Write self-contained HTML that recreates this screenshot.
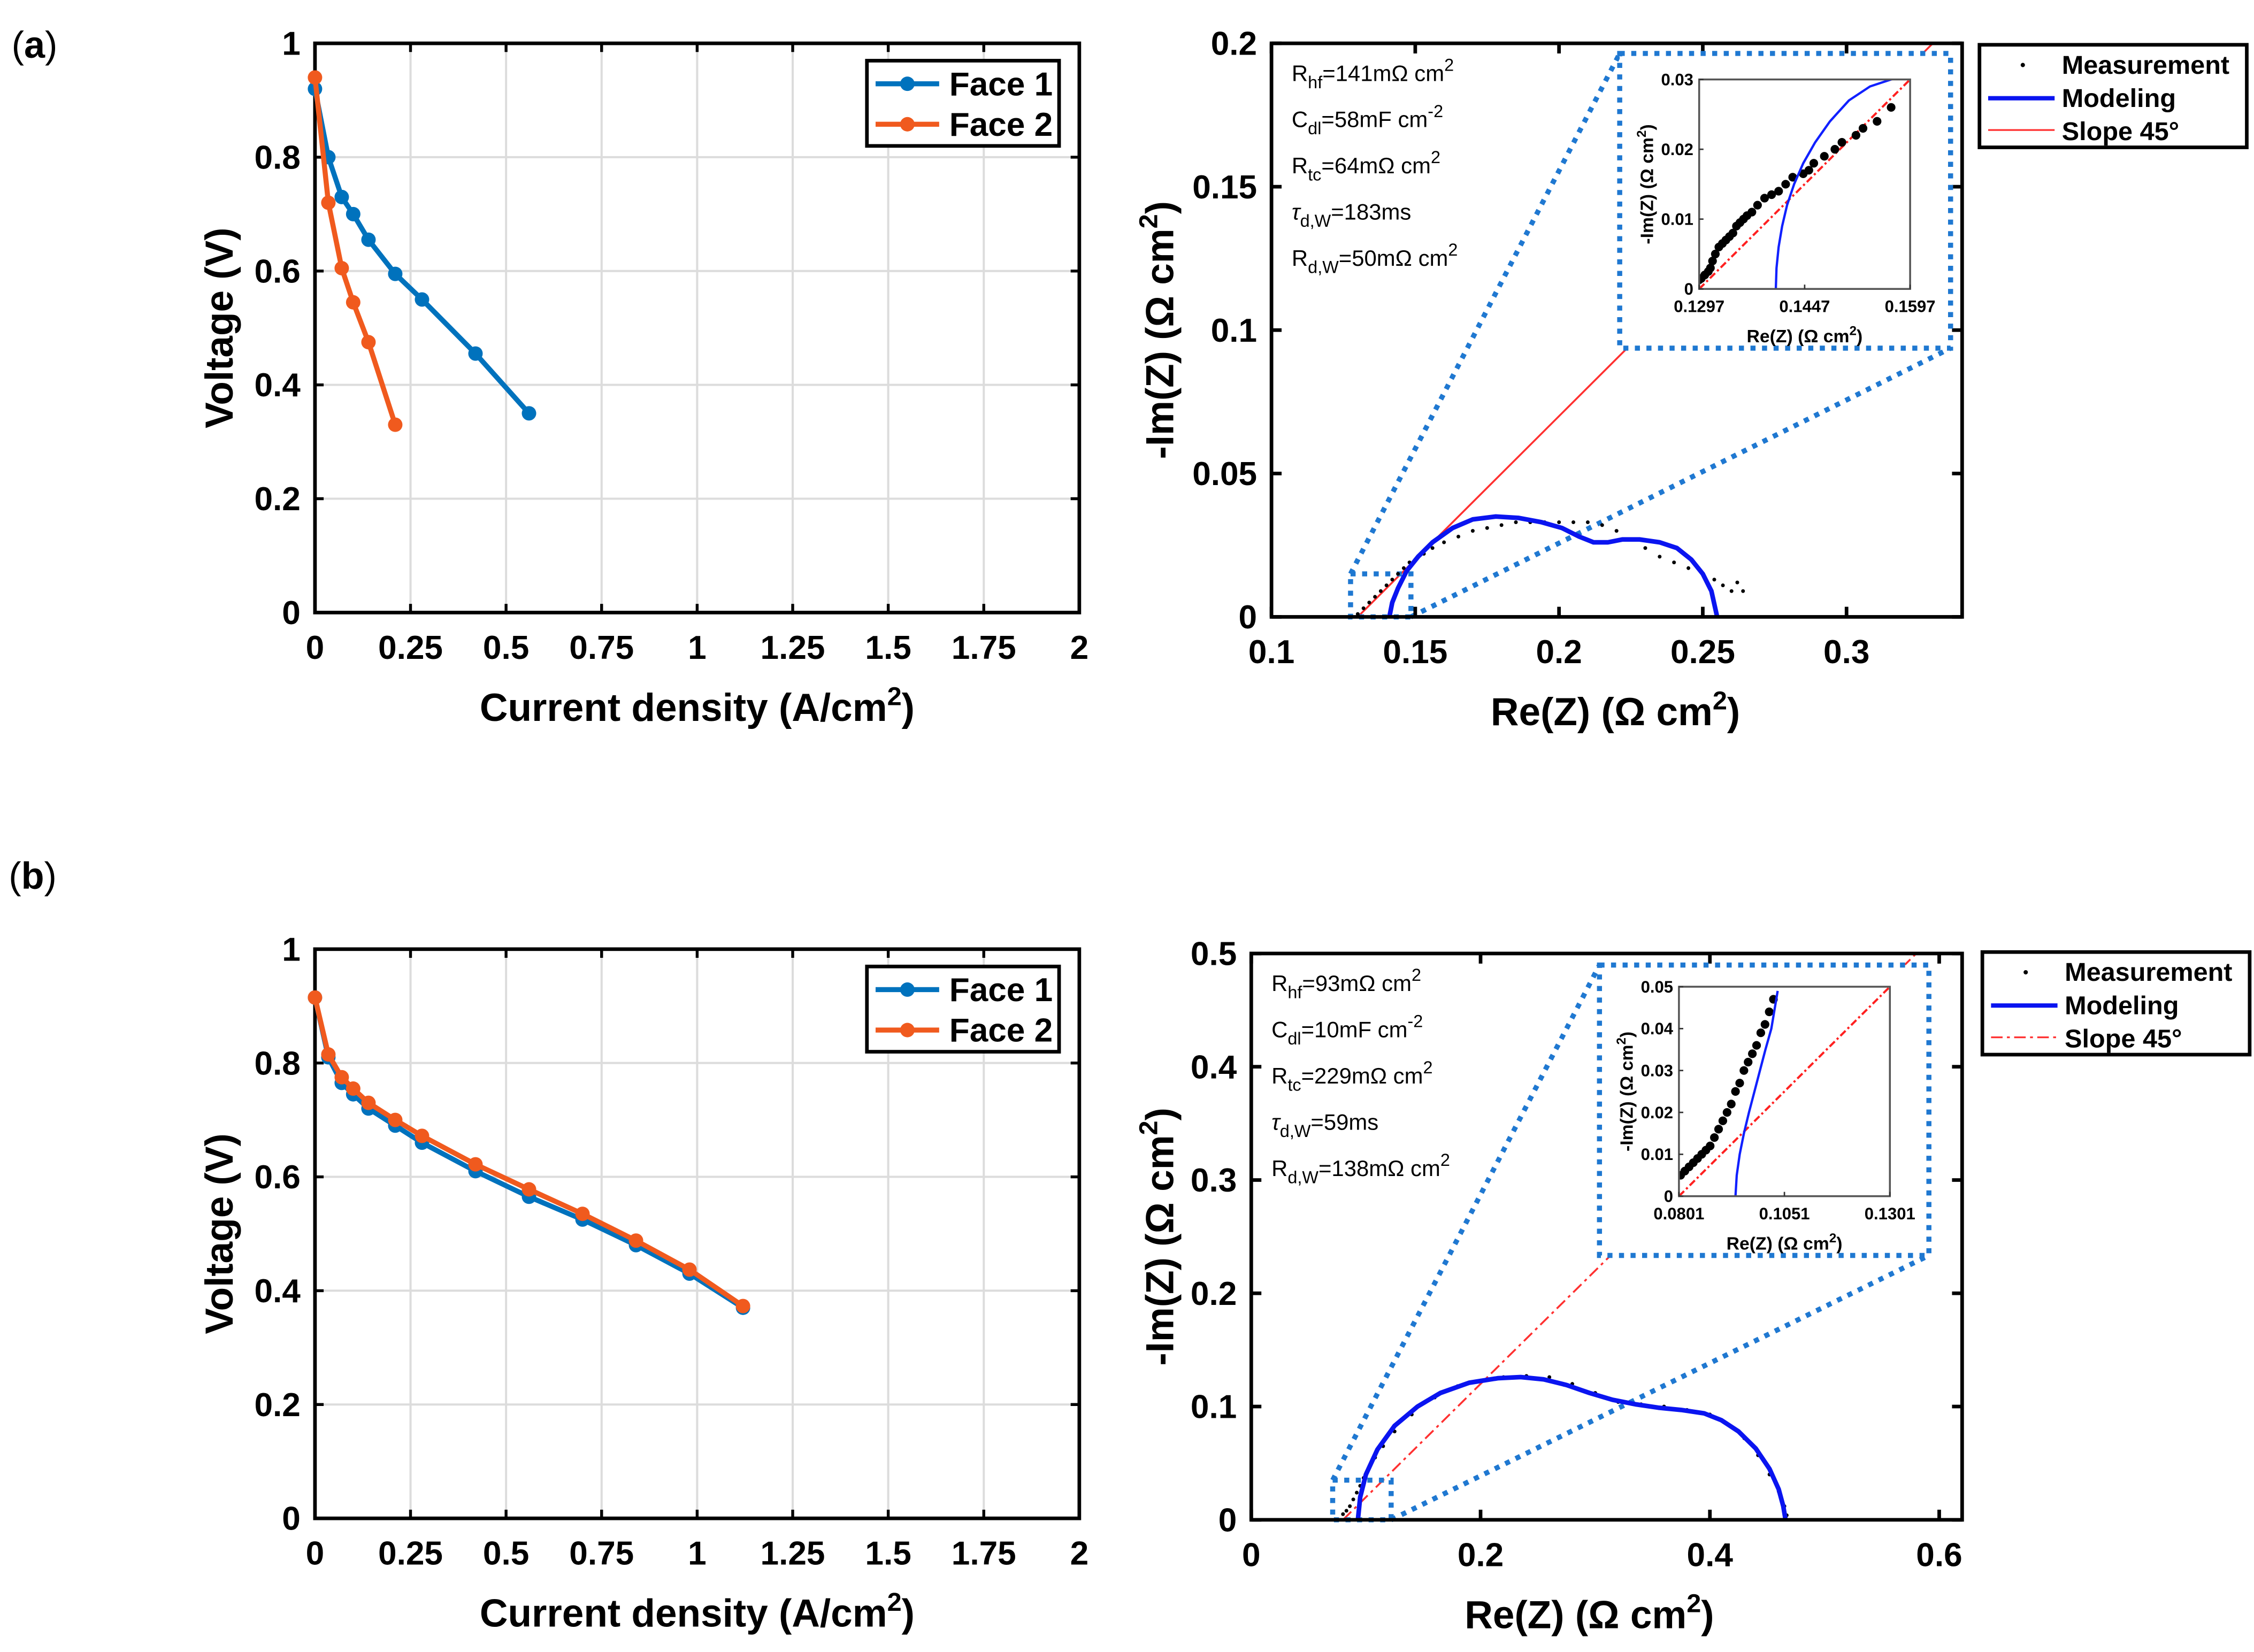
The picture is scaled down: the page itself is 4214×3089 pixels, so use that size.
<!DOCTYPE html>
<html><head><meta charset="utf-8"><style>
html,body{margin:0;padding:0;background:#fff;}
svg{display:block;}
text{font-family:"Liberation Sans",Arial,sans-serif;}
</style></head><body>
<svg id="fig" xmlns="http://www.w3.org/2000/svg" width="4214" height="3089" viewBox="0 0 1560 1143.5" preserveAspectRatio="none">
<text x="8" y="40" font-family="Liberation Serif" font-size="26">(<tspan font-weight="bold">a</tspan>)</text>
<text x="6" y="615" font-family="Liberation Serif" font-size="26">(<tspan font-weight="bold">b</tspan>)</text>
</svg>
<script>
// ---- data: polarization curves ----
const pcA_x1=[0,0.035,0.07,0.1,0.14,0.21,0.28,0.42,0.56];
const pcA_v1=[0.92,0.80,0.73,0.70,0.655,0.595,0.55,0.455,0.35];
const pcA_x2=[0,0.035,0.07,0.1,0.14,0.21];
const pcA_v2=[0.94,0.72,0.605,0.545,0.475,0.33];
const pcB_x1=[0,0.035,0.07,0.1,0.14,0.21,0.28,0.42,0.56,0.7,0.84,0.98,1.12];
const pcB_v1=[0.915,0.81,0.765,0.745,0.72,0.69,0.66,0.61,0.565,0.525,0.48,0.43,0.37];
const pcB_x2=[0,0.035,0.07,0.1,0.14,0.21,0.28,0.42,0.56,0.7,0.84,0.98,1.12];
const pcB_v2=[0.915,0.815,0.775,0.755,0.73,0.70,0.672,0.622,0.578,0.535,0.488,0.437,0.373];
const pcXTicks=[0,0.25,0.5,0.75,1,1.25,1.5,1.75,2];
const pcXLabels=["0","0.25","0.5","0.75","1","1.25","1.5","1.75","2"];
const pcYTicks=[0,0.2,0.4,0.6,0.8,1];
const pcYLabels=["0","0.2","0.4","0.6","0.8","1"];
// ---- data: Nyquist a ----
const nyA_modelRe=[0.141,0.142,0.144,0.147,0.151,0.156,0.163,0.170,0.178,0.186,0.194,0.201,0.207,0.212,0.217,0.222,0.228,0.235,0.241,0.246,0.250,0.253,0.255];
const nyA_modelIm=[0,0.005,0.010,0.016,0.021,0.026,0.031,0.034,0.035,0.0345,0.033,0.031,0.028,0.026,0.026,0.027,0.027,0.026,0.024,0.020,0.015,0.009,0];
const nyA_measRe=[0.130,0.132,0.134,0.136,0.138,0.140,0.142,0.144,0.146,0.148,0.150,0.153,0.156,0.160,0.165,0.170,0.175,0.180,0.185,0.190,0.195,0.200,0.205,0.210,0.215,0.220,0.225,0.230,0.235,0.240,0.245,0.250,0.254,0.257,0.260,0.262,0.264];
const nyA_measIm=[0.001,0.003,0.005,0.007,0.009,0.011,0.013,0.015,0.017,0.019,0.020,0.022,0.024,0.026,0.028,0.030,0.031,0.032,0.033,0.033,0.033,0.033,0.033,0.033,0.032,0.030,0.027,0.024,0.021,0.019,0.017,0.015,0.013,0.011,0.009,0.012,0.009];
const nyA_xTicks=[0.1,0.15,0.2,0.25,0.3];
const nyA_xLabels=["0.1","0.15","0.2","0.25","0.3"];
const nyA_yTicks=[0,0.05,0.1,0.15,0.2];
const nyA_yLabels=["0","0.05","0.1","0.15","0.2"];
const inA_modelRe=[0.1406,0.1407,0.1410,0.1415,0.1422,0.1432,0.1445,0.1462,0.1483,0.1510,0.1540,0.1570,0.1590];
const inA_modelIm=[0,0.003,0.006,0.009,0.012,0.015,0.018,0.021,0.024,0.027,0.029,0.030,0.0305];
const inA_measRe=[0.1297,0.1300,0.1305,0.1310,0.1313,0.1316,0.1320,0.1325,0.1330,0.1335,0.1340,0.1345,0.1350,0.1355,0.1360,0.1365,0.1372,0.1380,0.1390,0.1400,0.1410,0.1420,0.1430,0.1445,0.1453,0.1460,0.1475,0.1490,0.1500,0.1520,0.1530,0.1550,0.1570];
const inA_measIm=[0.0013,0.0015,0.0020,0.0025,0.0030,0.0040,0.0050,0.0060,0.0065,0.0070,0.0075,0.0080,0.0090,0.0095,0.0100,0.0105,0.0110,0.0120,0.0130,0.0135,0.0140,0.0150,0.0160,0.0165,0.0170,0.0180,0.0190,0.0200,0.0210,0.0220,0.0230,0.0240,0.0260];
const inA_xTicks=[0.1297,0.1447,0.1597];
const inA_xLabels=["0.1297","0.1447","0.1597"];
const inA_yTicks=[0,0.01,0.02,0.03];
const inA_yLabels=["0","0.01","0.02","0.03"];
// ---- data: Nyquist b ----
const nyB_modelRe=[0.093,0.095,0.100,0.110,0.125,0.145,0.165,0.190,0.215,0.235,0.255,0.275,0.295,0.315,0.335,0.355,0.375,0.395,0.410,0.425,0.440,0.452,0.460,0.464,0.466];
const nyB_modelIm=[0,0.020,0.040,0.062,0.083,0.100,0.112,0.121,0.125,0.126,0.124,0.119,0.112,0.106,0.102,0.099,0.097,0.094,0.088,0.078,0.063,0.045,0.027,0.012,0];
const nyB_measRe=[0.080,0.083,0.086,0.089,0.092,0.095,0.098,0.102,0.108,0.115,0.125,0.140,0.160,0.180,0.200,0.220,0.240,0.260,0.280,0.300,0.320,0.340,0.360,0.380,0.400,0.415,0.430,0.442,0.452,0.460,0.465,0.467];
const nyB_measIm=[0.005,0.008,0.012,0.018,0.024,0.030,0.037,0.044,0.055,0.065,0.078,0.093,0.108,0.118,0.123,0.126,0.127,0.126,0.120,0.112,0.104,0.102,0.100,0.097,0.093,0.085,0.072,0.057,0.040,0.025,0.012,0.004];
const nyB_xTicks=[0,0.2,0.4,0.6];
const nyB_xLabels=["0","0.2","0.4","0.6"];
const nyB_yTicks=[0,0.1,0.2,0.3,0.4,0.5];
const nyB_yLabels=["0","0.1","0.2","0.3","0.4","0.5"];
const inB_modelRe=[0.0935,0.0938,0.0945,0.0955,0.0967,0.0980,0.0993,0.1006,0.1020,0.1035];
const inB_modelIm=[0,0.005,0.010,0.015,0.020,0.025,0.030,0.035,0.040,0.049];
const inB_measRe=[0.0805,0.0815,0.0825,0.0835,0.0845,0.0855,0.0865,0.0875,0.0885,0.0895,0.0905,0.0915,0.0925,0.0935,0.0945,0.0955,0.0965,0.0975,0.0985,0.0995,0.1005,0.1015,0.1025];
const inB_measIm=[0.005,0.006,0.007,0.008,0.009,0.010,0.011,0.012,0.014,0.016,0.018,0.020,0.022,0.025,0.027,0.030,0.032,0.034,0.036,0.039,0.041,0.044,0.047];
const inB_xTicks=[0.0801,0.1051,0.1301];
const inB_xLabels=["0.0801","0.1051","0.1301"];
const inB_yTicks=[0,0.01,0.02,0.03,0.04,0.05];
const inB_yLabels=["0","0.01","0.02","0.03","0.04","0.05"];

const NS="http://www.w3.org/2000/svg";
const svg=document.getElementById('fig');
function mk(tag,attrs,parent){const e=document.createElementNS(NS,tag);for(const k in attrs)e.setAttribute(k,attrs[k]);(parent||svg).appendChild(e);return e;}
function scale(d0,d1,p0,p1){return v=>p0+(v-d0)/(d1-d0)*(p1-p0);}
function txt(x,y,s,size,anchor,weight,parent){const t=mk('text',{x:x,y:y,'font-size':size,'text-anchor':anchor||'middle','font-weight':weight||'normal'},parent);t.textContent=s;return t;}
function poly(xs,ys,sx,sy,color,w,name,dash){const pts=xs.map((v,i)=>sx(v).toFixed(2)+','+sy(ys[i]).toFixed(2)).join(' ');
  const p=mk('polyline',{points:pts,fill:'none',stroke:color,'stroke-width':w,'stroke-linejoin':'round'});if(dash)p.setAttribute('stroke-dasharray',dash);
  
  return p;}
function dots(xs,ys,sx,sy,r,name){const g=mk('g',{});
  
  
  xs.forEach((v,i)=>{const c=mk('circle',{cx:sx(v),cy:sy(ys[i]),r:r,fill:'#000'},g);
    
    });return g;}

function polPanel(top,x1,v1,x2,v2,pre){
  const L=218,R=747,T=top,B=top+394;
  const sx=scale(0,2,L,R),sy=scale(0,1,B,T);
  pcXTicks.forEach(t=>{const l=mk('line',{x1:sx(t),x2:sx(t),y1:T,y2:B,stroke:'#dcdcdc','stroke-width':1.5});
    
    });
  pcYTicks.forEach(t=>{const l=mk('line',{x1:L,x2:R,y1:sy(t),y2:sy(t),stroke:'#dcdcdc','stroke-width':1.5});
    
    });
  const box=mk('rect',{x:L,y:T,width:R-L,height:B-T,fill:'none',stroke:'#000','stroke-width':2.5});
  
  
  pcXTicks.forEach((t,i)=>{mk('line',{x1:sx(t),x2:sx(t),y1:B,y2:B-6,stroke:'#000','stroke-width':2});mk('line',{x1:sx(t),x2:sx(t),y1:T,y2:T+6,stroke:'#000','stroke-width':2});
    const e=txt(sx(t),B+32,pcXLabels[i],23,'middle','bold');
    
    });
  pcYTicks.forEach((t,i)=>{mk('line',{x1:L,x2:L+6,y1:sy(t),y2:sy(t),stroke:'#000','stroke-width':2});mk('line',{x1:R,x2:R-6,y1:sy(t),y2:sy(t),stroke:'#000','stroke-width':2});
    const e=txt(L-10,sy(t)+8,pcYLabels[i],23,'end','bold');
    
    });
  const xt=mk('text',{x:(L+R)/2,y:B+75,'font-size':27,'font-weight':'bold','text-anchor':'middle'});
  xt.innerHTML='Current density (A/cm<tspan dy="-11" font-size="18">2</tspan><tspan dy="11">)</tspan>';
  
  
  const yt=mk('text',{x:0,y:0,'font-size':27,'font-weight':'bold','text-anchor':'middle',transform:`translate(161,${(T+B)/2}) rotate(-90)`});
  yt.textContent='Voltage (V)';
  
  
  const series=[[x1,v1,'#0072bd','face-1'],[x2,v2,'#f05a1e','face-2']];
  series.forEach(s=>{poly(s[0],s[1],sx,sy,s[2],3.5,pre+'-'+s[3]+'-line');
    const g=mk('g',{});
    
    
    s[0].forEach((v,i)=>{const c=mk('circle',{cx:sx(v),cy:sy(s[1][i]),r:5,fill:s[2]},g);
      
      });});
  const lg=mk('g',{});
  
  
  mk('rect',{x:600,y:T+12,width:133,height:59,fill:'#fff',stroke:'#000','stroke-width':2.5},lg);
  [['Face 1','#0072bd'],['Face 2','#f05a1e']].forEach((e,i)=>{const y=T+28+i*28;
    mk('line',{x1:606,x2:650,y1:y,y2:y,stroke:e[1],'stroke-width':3.5},lg);mk('circle',{cx:628,cy:y,r:5,fill:e[1]},lg);
    const t=txt(657,y+8,e[0],23,'start','bold',lg);
    
    });
}
polPanel(30,pcA_x1,pcA_v1,pcA_x2,pcA_v2,'a');
polPanel(657,pcB_x1,pcB_v1,pcB_x2,pcB_v2,'b');

function nyPanel(o){
  const {L,R,T,B,xd,yd,xTicks,xLabels,yTicks,yLabels,pre}=o;
  const sx=scale(xd[0],xd[1],L,R),sy=scale(yd[0],yd[1],B,T);
  const clipId='clip'+pre;
  const cp=mk('clipPath',{id:clipId});mk('rect',{x:L,y:T,width:R-L,height:B-T},cp);
  const g=mk('g',{'clip-path':`url(#${clipId})`});
  
  
  // slope 45 line
  const s0=o.rhf, s1=o.rhf+(yd[1]-yd[0])*1.05;
  const sl=mk('line',{x1:sx(s0),y1:sy(0),x2:sx(s1),y2:sy(s1-o.rhf),stroke:'#ff3030','stroke-width':1.3},g);
  if(o.dashSlope)sl.setAttribute('stroke-dasharray','8,3,2,3');
  
  
  // zoom box + connectors
  const zb=o.zoomBox, ib=o.insetBox;
  const zx0=sx(zb[0]),zx1=sx(zb[1]),zy0=sy(zb[3]),zy1=sy(zb[2]);
  const dash={stroke:'#1f78d1','stroke-width':3.5,'stroke-dasharray':'3.5,4.5',fill:'none'};
  const zr=mk('rect',Object.assign({x:zx0,y:zy0,width:zx1-zx0,height:zy1-zy0},dash));
  
  
  const c1=mk('line',Object.assign({x1:zx0,y1:zy0,x2:ib[0],y2:ib[1]},dash));
  
  
  const c2=mk('line',Object.assign({x1:zx1,y1:zy1,x2:ib[2],y2:ib[3]},dash));
  
  
  dots(o.measRe,o.measIm,sx,sy,1.3,pre+'-measurement');
  poly(o.modRe,o.modIm,sx,sy,'#0a14f0',3.2,pre+'-model-curve');
  const box=mk('rect',{x:L,y:T,width:R-L,height:B-T,fill:'none',stroke:'#000','stroke-width':2.5});
  
  
  xTicks.forEach((t,i)=>{mk('line',{x1:sx(t),x2:sx(t),y1:B,y2:B-7,stroke:'#000','stroke-width':2.5});mk('line',{x1:sx(t),x2:sx(t),y1:T,y2:T+7,stroke:'#000','stroke-width':2.5});
    const e=txt(sx(t),B+32,xLabels[i],23,'middle','bold');
    
    });
  yTicks.forEach((t,i)=>{mk('line',{x1:L,x2:L+7,y1:sy(t),y2:sy(t),stroke:'#000','stroke-width':2.5});mk('line',{x1:R,x2:R-7,y1:sy(t),y2:sy(t),stroke:'#000','stroke-width':2.5});
    const e=txt(L-10,sy(t)+8,yLabels[i],23,'end','bold');
    
    });
  const xt=mk('text',{x:o.xTitleX,y:B+75,'font-size':27,'font-weight':'bold','text-anchor':'middle'});
  xt.innerHTML='Re(Z) (Ω cm<tspan dy="-11" font-size="18">2</tspan><tspan dy="11">)</tspan>';
  
  
  const yt=mk('text',{x:0,y:0,'font-size':27,'font-weight':'bold','text-anchor':'middle',transform:`translate(${o.yTitleX},${(T+B)/2}) rotate(-90)`});
  yt.innerHTML='-Im(Z) (Ω cm<tspan dy="-11" font-size="18">2</tspan><tspan dy="11">)</tspan>';
  
  
  // parameters
  const pg=mk('g',{});
  
  
  o.params.forEach((p,i)=>{const t=mk('text',{x:L+14,y:T+26+i*32,'font-size':15.5},pg);t.innerHTML=p;});
  // inset box (dotted)
  const ir=mk('rect',Object.assign({x:ib[0],y:ib[1],width:ib[2]-ib[0],height:ib[3]-ib[1]},dash,{fill:'#fff'}));
  
  
  // inset axes
  const a=o.inAx;
  const ix=scale(a.xd[0],a.xd[1],a.L,a.R),iy=scale(a.yd[0],a.yd[1],a.B,a.T);
  const icp=mk('clipPath',{id:clipId+'i'});mk('rect',{x:a.L,y:a.T,width:a.R-a.L,height:a.B-a.T},icp);
  const ig=mk('g',{'clip-path':`url(#${clipId}i)`});
  
  
  const isl=mk('line',{x1:ix(a.xd[0]),y1:iy(0),x2:ix(a.xd[1]),y2:iy(a.xd[1]-a.xd[0]),stroke:'#ff2020','stroke-width':1.5,'stroke-dasharray':'5,2,1.5,2'},ig);
  
  
  const md=dots(a.measRe,a.measIm,ix,iy,3,pre+'-inset-measurement');ig.appendChild(md);
  const mc=poly(a.modRe,a.modIm,ix,iy,'#1020ff',1.6,pre+'-inset-model');ig.appendChild(mc);
  mk('rect',{x:a.L,y:a.T,width:a.R-a.L,height:a.B-a.T,fill:'none',stroke:'#555','stroke-width':1.3});
  a.xTicks.forEach((t,i)=>{mk('line',{x1:ix(t),x2:ix(t),y1:a.B,y2:a.B-3,stroke:'#333','stroke-width':1});
    const e=txt(ix(t),a.B+16,a.xLabels[i],11.5,'middle','bold');
    
    });
  a.yTicks.forEach((t,i)=>{mk('line',{x1:a.L,x2:a.L+3,y1:iy(t),y2:iy(t),stroke:'#333','stroke-width':1});
    const e=txt(a.L-4,iy(t)+4,a.yLabels[i],11.5,'end','bold');
    
    });
  const ixt=mk('text',{x:(a.L+a.R)/2,y:a.B+37,'font-size':12.5,'font-weight':'bold','text-anchor':'middle'});
  ixt.innerHTML='Re(Z) (Ω cm<tspan dy="-5" font-size="9">2</tspan><tspan dy="5">)</tspan>';
  
  
  const iyt=mk('text',{x:0,y:0,'font-size':12.5,'font-weight':'bold','text-anchor':'middle',transform:`translate(${a.L-32},${(a.T+a.B)/2}) rotate(-90)`});
  iyt.innerHTML='-Im(Z) (Ω cm<tspan dy="-5" font-size="9">2</tspan><tspan dy="5">)</tspan>';
  
  
  // legend
  const lg=mk('g',{});
  
  
  const Lx=o.leg[0],Ly=o.leg[1];
  mk('rect',{x:Lx,y:Ly,width:185,height:71,fill:'#fff',stroke:'#000','stroke-width':2.5},lg);
  mk('circle',{cx:Lx+30,cy:Ly+14,r:1.5,fill:'#000'},lg);
  mk('line',{x1:Lx+6,x2:Lx+52,y1:Ly+37,y2:Ly+37,stroke:'#0a14f0','stroke-width':3},lg);
  const ll=mk('line',{x1:Lx+6,x2:Lx+52,y1:Ly+59,y2:Ly+59,stroke:'#ff3030','stroke-width':1.2},lg);
  if(o.dashSlope)ll.setAttribute('stroke-dasharray','8,3,2,3');
  ['Measurement','Modeling','Slope 45°'].forEach((s,i)=>{const t=txt(Lx+57,Ly+20+i*23,s,18,'start','bold',lg);
    
    });
}
nyPanel({pre:'a',L:880,R:1358,T:30,B:427,xd:[0.1,0.3402],yd:[0,0.2],xTicks:nyA_xTicks,xLabels:nyA_xLabels,yTicks:nyA_yTicks,yLabels:nyA_yLabels,
  rhf:0.13,dashSlope:false,zoomBox:[0.1275,0.1485,0,0.015],insetBox:[1121,37,1350,241],
  modRe:nyA_modelRe,modIm:nyA_modelIm,measRe:nyA_measRe,measIm:nyA_measIm,xTitleX:1118,yTitleX:812,leg:[1370,31],
  params:['R<tspan dy="5" font-size="12">hf</tspan><tspan dy="-5">=141mΩ cm</tspan><tspan dy="-7" font-size="12">2</tspan>',
          'C<tspan dy="5" font-size="12">dl</tspan><tspan dy="-5">=58mF cm</tspan><tspan dy="-7" font-size="12">-2</tspan>',
          'R<tspan dy="5" font-size="12">tc</tspan><tspan dy="-5">=64mΩ cm</tspan><tspan dy="-7" font-size="12">2</tspan>',
          '<tspan font-style="italic">τ</tspan><tspan dy="5" font-size="12">d,W</tspan><tspan dy="-5">=183ms</tspan>',
          'R<tspan dy="5" font-size="12">d,W</tspan><tspan dy="-5">=50mΩ cm</tspan><tspan dy="-7" font-size="12">2</tspan>'],
  inAx:{L:1176,R:1322,T:55,B:200,xd:[0.1297,0.1597],yd:[0,0.03],xTicks:inA_xTicks,xLabels:inA_xLabels,yTicks:inA_yTicks,yLabels:inA_yLabels,
    modRe:inA_modelRe,modIm:inA_modelIm,measRe:inA_measRe,measIm:inA_measIm}});
nyPanel({pre:'b',L:866,R:1358,T:660,B:1052,xd:[0,0.62],yd:[0,0.5],xTicks:nyB_xTicks,xLabels:nyB_xLabels,yTicks:nyB_yTicks,yLabels:nyB_yLabels,
  rhf:0.08,dashSlope:true,zoomBox:[0.071,0.122,0,0.035],insetBox:[1107,668,1335,869],
  modRe:nyB_modelRe,modIm:nyB_modelIm,measRe:nyB_measRe,measIm:nyB_measIm,xTitleX:1100,yTitleX:812,leg:[1372,659],
  params:['R<tspan dy="5" font-size="12">hf</tspan><tspan dy="-5">=93mΩ cm</tspan><tspan dy="-7" font-size="12">2</tspan>',
          'C<tspan dy="5" font-size="12">dl</tspan><tspan dy="-5">=10mF cm</tspan><tspan dy="-7" font-size="12">-2</tspan>',
          'R<tspan dy="5" font-size="12">tc</tspan><tspan dy="-5">=229mΩ cm</tspan><tspan dy="-7" font-size="12">2</tspan>',
          '<tspan font-style="italic">τ</tspan><tspan dy="5" font-size="12">d,W</tspan><tspan dy="-5">=59ms</tspan>',
          'R<tspan dy="5" font-size="12">d,W</tspan><tspan dy="-5">=138mΩ cm</tspan><tspan dy="-7" font-size="12">2</tspan>'],
  inAx:{L:1162,R:1308,T:683,B:828,xd:[0.0801,0.1301],yd:[0,0.05],xTicks:inB_xTicks,xLabels:inB_xLabels,yTicks:inB_yTicks,yLabels:inB_yLabels,
    modRe:inB_modelRe,modIm:inB_modelIm,measRe:inB_measRe,measIm:inB_measIm}});
</script>
</body></html>
